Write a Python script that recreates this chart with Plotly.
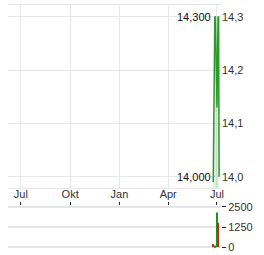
import plotly.graph_objects as go

dates = ["2024-06-24", "2024-06-25", "2024-06-26", "2024-06-27", "2024-06-28",
         "2024-07-01", "2024-07-02", "2024-07-03", "2024-07-04", "2024-07-05"]
prices = [13.99, 14.2, 14.2, 14.3, 14.3, 14.13, 14.3, 14.3, 14.3, 14.0]

vol_dates = ["2024-06-24", "2024-06-27", "2024-07-01", "2024-07-03"]
vol_values = [190, 100, 2150, 1520]
vol_colors = ["#cc2222", "#22a022", "#1a961a", "#cc2222"]

x_tickvals = ["2023-07-01", "2023-10-01", "2024-01-01", "2024-04-01", "2024-07-01"]
x_ticktext = ["Jul", "Okt", "Jan", "Apr", "Jul"]
y_tickvals = [14.0, 14.1, 14.2, 14.3]
y_ticktext = ["14,0", "14,1", "14,2", "14,3"]
v_tickvals = [0, 1250, 2500]
v_ticktext = ["0", "1250", "2500"]
hi_label, lo_label = "14,300", "14,000"
hi_val, lo_val = 14.3, 14.0

xr = ["2023-06-07", "2024-07-08 12:00"]

fig = go.Figure()
fig.add_trace(go.Scatter(x=dates, y=prices, mode="lines",
                         line=dict(color="#2a9a2a", width=1.5),
                         fill="tozeroy", fillcolor="rgba(60,160,60,0.18)",
                         xaxis="x", yaxis="y"))
fig.add_trace(go.Bar(x=vol_dates, y=vol_values, marker=dict(color=vol_colors, line=dict(width=0)),
                     width=2.6 * 86400000, xaxis="x2", yaxis="y2"))

font = dict(family="Arial, Liberation Sans, sans-serif", size=11, color="#333333")
shapes = [dict(type="line", xref="paper", x0=0, x1=1, yref="y2", y0=v, y1=v,
               line=dict(color="#cccccc", width=1), layer="below") for v in v_tickvals]

fig.update_layout(
    width=264, height=255, margin=dict(l=8, r=43, t=5, b=7, autoexpand=False),
    paper_bgcolor="white", plot_bgcolor="white", showlegend=False,
    separators=",.", font=font, shapes=shapes,
    xaxis=dict(domain=[0, 1], range=xr, type="date", tickvals=x_tickvals, ticktext=x_ticktext,
               showgrid=True, gridcolor="#e8e8e8", gridwidth=1, ticks="", showline=True,
               linecolor="#e8e8e8", mirror=True, anchor="y", tickfont=font, zeroline=False,
               automargin=False, ticklabelstandoff=-4),
    yaxis=dict(domain=[0.2469, 1], range=[13.979, 14.3225], side="right",
               tickvals=y_tickvals, ticktext=y_ticktext, showgrid=True, gridcolor="#e8e8e8",
               ticks="", showline=False, zeroline=False, anchor="x", tickfont=font,
               automargin=False),
    xaxis2=dict(domain=[0, 1], range=xr, type="date", tickvals=x_tickvals, showticklabels=False,
                showgrid=False, ticks="outside", ticklen=3, tickcolor="#222222", side="top",
                anchor="y2", zeroline=False, showline=False, automargin=False),
    yaxis2=dict(domain=[0, 0.1728], range=[-60, 2560], side="right", tickvals=v_tickvals,
                ticktext=v_ticktext, showgrid=False, ticks="outside",
                ticklen=4, tickcolor="#222222", zeroline=False, anchor="x2", tickfont=font,
                automargin=False),
    annotations=[
        dict(x="2024-06-23", y=hi_val, xref="x", yref="y", text=hi_label, showarrow=False,
             xanchor="right", yanchor="middle", font=dict(family=font["family"], size=11, color="#111111")),
        dict(x="2024-06-23", y=lo_val, xref="x", yref="y", text=lo_label, showarrow=False,
             xanchor="right", yanchor="middle", font=dict(family=font["family"], size=11, color="#111111")),
    ],
)
fig.write_html("out.html")
